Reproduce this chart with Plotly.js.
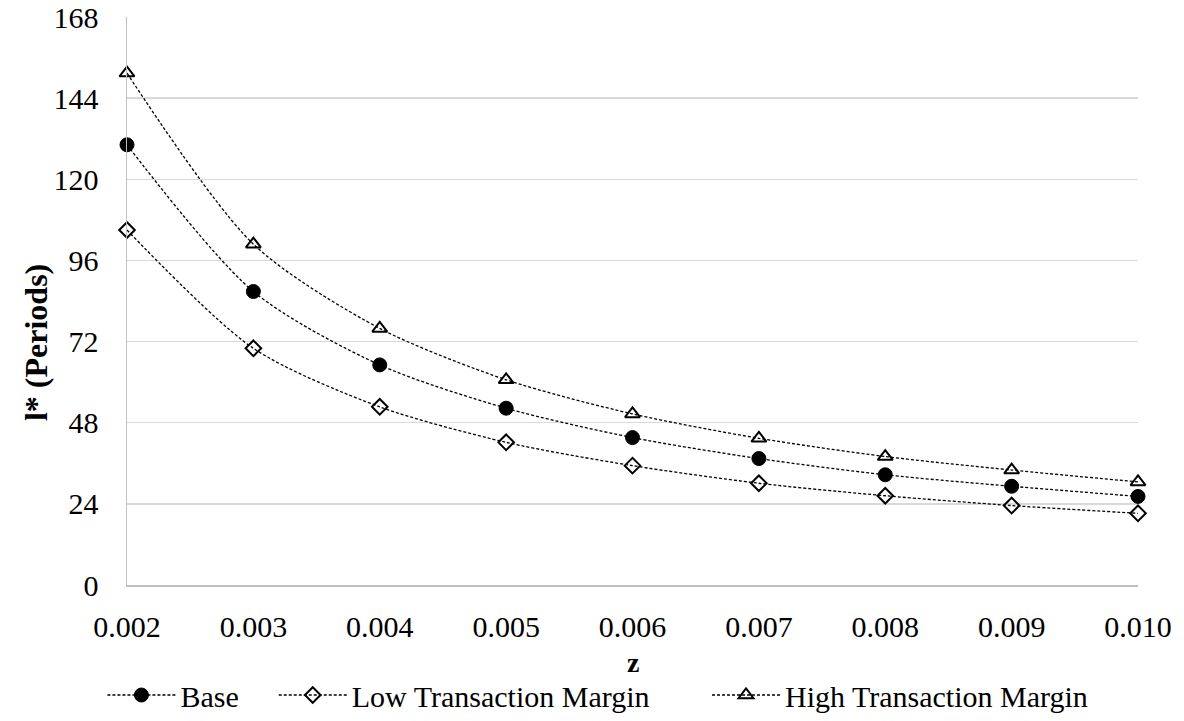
<!DOCTYPE html>
<html>
<head>
<meta charset="utf-8">
<script src="https://cdn.plot.ly/plotly-3.0.1.min.js"></script>
<style>html,body{margin:0;padding:0;background:#fff;}#chart{width:1184px;height:721px;}</style>
</head>
<body>
<div id="chart"></div>
<script>
const zValues = [0.002, 0.003, 0.004, 0.005, 0.006, 0.007, 0.008, 0.009, 0.010];
const baseValues = [130.2, 86.8, 65.1, 52.3, 43.6, 37.4, 32.6, 29.2, 26.2];
const lowValues = [105.0, 70.0, 52.7, 42.2, 35.3, 30.1, 26.4, 23.5, 21.2];
const highValues = [151.4, 100.8, 75.9, 60.7, 50.6, 43.4, 38.0, 34.0, 30.5];
const seriesNames = ["Base", "Low Transaction Margin", "High Transaction Margin"];
const yTicks = [0, 24, 48, 72, 96, 120, 144, 168];
const xTitle = "z";
const yTitle = "l* (Periods)";

const FAM = '"Liberation Serif", "Times New Roman", Times, serif';
function f(size) { return {family: FAM, size: size, color: '#000'}; }
// trailing non-breaking spaces only widen the gap between legend entries
const pad = n => '\u00a0'.repeat(n);
const legendPads = [4, 7, 0];

function lineStyle() { return {color: '#000', width: 1.3, dash: '3px,2px', shape: 'spline', smoothing: 0.8}; }
const traces = [
  {x: zValues, y: baseValues, name: seriesNames[0] + pad(legendPads[0]), mode: 'lines+markers', line: lineStyle(),
   marker: {symbol: 'circle', size: 14, color: '#000', line: {color: '#000', width: 1}}},
  {x: zValues, y: lowValues, name: seriesNames[1] + pad(legendPads[1]), mode: 'lines+markers', line: lineStyle(),
   marker: {symbol: 'diamond-open', size: 12, color: '#000', line: {color: '#000', width: 2}}},
  {x: zValues, y: highValues, name: seriesNames[2] + pad(legendPads[2]), mode: 'lines+markers', line: lineStyle(),
   marker: {symbol: 'triangle-up-open', size: 13, color: '#000', line: {color: '#000', width: 2}}}
];
traces.forEach(t => t.cliponaxis = false);

const layout = {
  width: 1184, height: 721,
  margin: {l: 127, r: 46, t: 17, b: 136},
  paper_bgcolor: '#fff', plot_bgcolor: '#fff',
  font: f(30),
  showlegend: true,
  legend: {orientation: 'h', xref: 'container', x: 0.505, xanchor: 'center',
           yref: 'container', y: -0.008, yanchor: 'bottom', bgcolor: 'rgba(0,0,0,0)',
           font: f(30), itemwidth: 68, tracegroupgap: 0, borderwidth: 0},
  xaxis: {
    range: [0.002, 0.010], tickvals: zValues, tickformat: '.3f',
    showgrid: false, zeroline: false,
    showline: true, linecolor: '#bfbfbf', linewidth: 1.5,
    ticks: '', ticklabelstandoff: 14,
    tickfont: f(30)
  },
  yaxis: {
    range: [0, 168], tickvals: yTicks,
    showgrid: true, gridcolor: '#d9d9d9', gridwidth: 1.5,
    zeroline: false, showline: true, linecolor: '#bfbfbf', linewidth: 1.5,
    ticks: '', ticklabelstandoff: 21,
    tickfont: f(30)
  },
  annotations: [
    {text: '<b>' + xTitle + '</b>', xref: 'paper', yref: 'paper', x: 0.5, y: -0.137,
     xanchor: 'center', yanchor: 'middle', showarrow: false, font: f(28)},
    {text: '<b>' + yTitle + '</b>', xref: 'paper', yref: 'paper', x: -0.0900, y: 0.426,
     xanchor: 'center', yanchor: 'middle', showarrow: false, textangle: -90, font: f(32)}
  ]
};
Plotly.newPlot('chart', traces, layout, {displayModeBar: false, staticPlot: true});
</script>
</body>
</html>
